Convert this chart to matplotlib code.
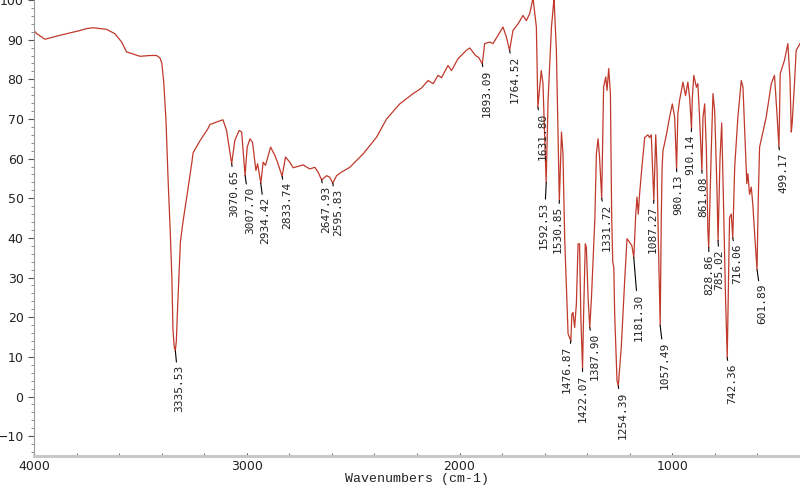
import numpy as np
import matplotlib
matplotlib.use("Agg")
import matplotlib.pyplot as plt
from matplotlib.ticker import MultipleLocator

# IR spectrum (wavenumber cm-1, %T)
wavenumber = [
    4000, 3987, 3948, 3878, 3815, 3784, 3752, 3721, 3659, 3620, 3588, 3565, 3541,
    3502, 3455, 3424, 3408, 3399, 3390, 3380, 3370, 3360, 3352, 3347, 3341, 3336,
    3331, 3325, 3312, 3300, 3283, 3259, 3252, 3220, 3183, 3173, 3142, 3112, 3095,
    3071, 3056, 3036, 3024, 3008, 2998, 2985, 2973, 2957, 2949, 2934, 2923, 2912,
    2888, 2868, 2853, 2834, 2818, 2798, 2782, 2735, 2704, 2680, 2665, 2648, 2625,
    2610, 2596, 2578, 2555, 2516, 2453, 2390, 2343, 2281, 2218, 2179, 2148, 2124,
    2101, 2085, 2054, 2038, 2007, 1968, 1952, 1925, 1910, 1893, 1882, 1858, 1843,
    1819, 1796, 1780, 1765, 1749, 1725, 1702, 1686, 1670, 1655, 1639, 1632, 1616,
    1608, 1593, 1584, 1568, 1556, 1545, 1531, 1521, 1514, 1506, 1490, 1477, 1472,
    1467, 1459, 1451, 1443, 1436, 1430, 1422, 1417, 1409, 1404, 1396, 1388, 1380,
    1364, 1357, 1349, 1342, 1332, 1323, 1313, 1307, 1299, 1291, 1285, 1280, 1275,
    1271, 1260, 1254, 1240, 1224, 1213, 1201, 1190, 1181, 1172, 1166, 1160, 1154,
    1146, 1130, 1115, 1107, 1099, 1087, 1078, 1072, 1066, 1057, 1052, 1048, 1044,
    1028, 1013, 1000, 989, 980, 974, 966, 950, 938, 927, 918, 910, 906, 899, 887,
    880, 872, 861, 856, 848, 840, 833, 829, 817, 809, 801, 791, 785, 776, 768, 760,
    750, 742, 731, 723, 716, 707, 692, 676, 668, 656, 650, 645, 637, 629, 622, 612,
    602, 596, 590, 559, 535, 520, 509, 499, 493, 473, 457, 447, 441, 437, 426, 418,
    400,
]
transmittance = [
    92.3, 91.5, 90.1, 91.1, 91.9, 92.3, 92.8, 93.0, 92.6, 91.5, 89.4, 86.9, 86.5,
    85.8, 86.0, 86.0, 85.4, 84.0, 79.0, 70.0, 55.0, 42.0, 30.0, 17.0, 12.5, 11.5,
    14.0, 22.5, 39.0, 44.0, 50.0, 58.7, 61.5, 64.5, 67.5, 68.6, 69.2, 69.8, 67.1,
    58.7, 64.6, 67.1, 66.7, 55.7, 62.9, 65.0, 64.1, 57.0, 58.7, 53.8, 59.1, 58.3,
    62.9, 60.8, 58.7, 55.5, 60.4, 59.1, 57.7, 58.4, 57.4, 57.8, 56.6, 54.6, 55.7,
    55.3, 53.8, 55.7, 56.6, 57.8, 61.2, 65.4, 70.0, 73.8, 76.4, 77.8, 79.7, 78.9,
    81.0, 80.4, 83.5, 82.2, 85.2, 87.3, 87.9, 86.0, 85.5, 83.9, 89.0, 89.4, 89.0,
    91.1, 93.2, 90.7, 87.3, 92.3, 94.0, 96.1, 94.8, 96.6, 100.5, 93.2, 73.0, 82.2,
    79.0, 54.0, 74.7, 93.2, 100.5, 87.3, 49.4, 66.7, 61.2, 40.0, 15.8, 14.1, 20.8,
    21.2, 17.4, 23.4, 38.5, 38.5, 20.0, 7.0, 20.8, 38.5, 37.6, 25.0, 17.4, 25.0,
    45.0, 61.2, 65.0, 60.3, 50.0, 78.0, 80.6, 77.2, 82.7, 76.4, 45.0, 34.0, 32.5,
    20.8, 4.0, 2.7, 12.4, 29.2, 39.8, 38.9, 38.0, 35.1, 46.0, 50.3, 46.0, 51.0,
    56.0, 65.3, 66.0, 65.3, 66.0, 49.4, 66.0, 57.8, 40.0, 18.0, 45.0, 57.8, 62.0,
    66.0, 70.4, 73.8, 70.4, 57.4, 71.3, 74.7, 79.3, 75.9, 79.3, 75.0, 67.5, 75.5,
    81.0, 78.0, 78.9, 70.4, 57.0, 70.4, 73.8, 62.0, 41.8, 37.6, 62.0, 76.4, 72.1,
    53.7, 39.3, 60.0, 69.0, 50.0, 25.0, 9.8, 45.2, 46.0, 40.0, 57.8, 70.4, 79.7,
    78.0, 62.0, 53.7, 56.2, 51.0, 52.8, 48.6, 40.0, 32.0, 50.0, 62.9, 70.4, 78.9,
    81.0, 72.0, 62.9, 81.4, 84.8, 89.0, 80.0, 66.7, 68.8, 78.9, 87.3, 89.0,
]

peak_labels = [
    "3335.53", "3070.65", "3007.70", "2934.42", "2833.74", "2647.93", "2595.83",
    "1893.09", "1764.52", "1631.80", "1592.53", "1530.85", "1476.87", "1422.07",
    "1387.90", "1331.72", "1254.39", "1181.30", "1087.27", "1057.49", "980.13",
    "910.14", "861.08", "828.86", "785.02", "742.36", "716.06", "601.89", "499.17",
]

# label placement tweaks (points): extra drop below the dip, sideways shift
extra_drop = {"1592.53": 10, "1181.30": 22, "1057.49": 8, "3335.53": 6,
              "601.89": 6, "3007.70": 4, "2934.42": 6, "828.86": 1, "785.02": 2}
shift_x = {"1476.87": -3, "1592.53": -1.5, "1530.85": -1.5, "1087.27": -0.5,
           "910.14": -1, "1422.07": 0, "828.86": 0.5, "785.02": 1,
           "980.13": 1.5, "861.08": 1, "3335.53": 2.5, "3070.65": 2}

wn = np.array(wavenumber, dtype=float)
tr = np.array(transmittance, dtype=float)

plt.rcParams["font.family"] = ["DejaVu Sans"]
fig = plt.figure(figsize=(8, 4.9), dpi=100)
ax = fig.add_axes([0.0425, 0.0694, 0.9575, 0.9306])

ax.plot(wn, tr, color="#c0392b", lw=0.9)

ax.set_xlim(4000, 400)
ax.set_ylim(-15, 100)

# peak labels with short leader lines
for lab in peak_labels:
    x = float(lab)
    idx = np.argmin(np.abs(wn - x))
    y = tr[idx]
    drop = 4 + extra_drop.get(lab, 0)
    dx = shift_x.get(lab, 3.5)
    ax.annotate(lab, xy=(x, y), xytext=(dx, -drop), textcoords="offset points",
                rotation=90, ha="center", va="top", fontsize=8,
                family="DejaVu Sans Mono", color="#222222",
                arrowprops=dict(arrowstyle="-", color="black", lw=0.8,
                                shrinkA=0, shrinkB=0))

for side in ("top", "right"):
    ax.spines[side].set_visible(False)
ax.spines["left"].set_color("#9a9a9a")
ax.spines["bottom"].set_color("#c8c8c8")
ax.spines["bottom"].set_linewidth(2.2)

ax.xaxis.set_major_locator(MultipleLocator(1000))
ax.xaxis.set_minor_locator(MultipleLocator(200))
ax.yaxis.set_major_locator(MultipleLocator(10))
ax.yaxis.set_minor_locator(MultipleLocator(2))
ax.tick_params(axis="x", which="both", direction="in", length=2, color="#555555",
               labelsize=9, labelcolor="#222222", pad=3)
ax.tick_params(axis="y", which="major", direction="out", length=4, color="#555555",
               labelsize=9, labelcolor="#222222")
ax.tick_params(axis="y", which="minor", direction="out", length=2, color="#777777")

ax.set_xlabel("Wavenumbers (cm-1)", family="Liberation Mono", fontsize=9.5,
              color="#222222", labelpad=0)

fig.savefig("out.png", dpi=100)
